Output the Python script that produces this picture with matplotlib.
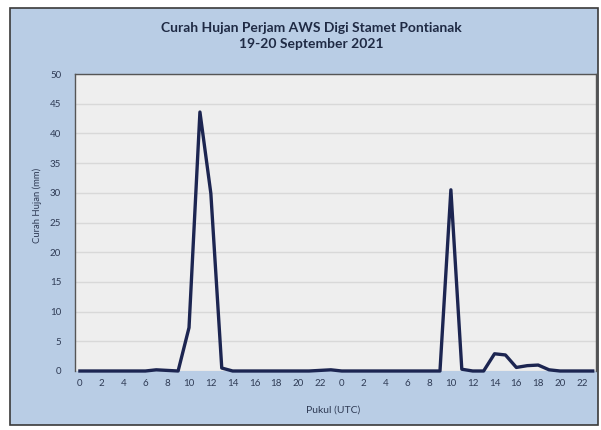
import matplotlib
matplotlib.use("Agg")
import matplotlib.pyplot as plt
from matplotlib.patches import Rectangle
import numpy as np

hours_day1 = list(range(24))
hours_day2 = list(range(24))
rain_day1 = [0, 0, 0, 0, 0, 0, 0, 0.2, 0.1, 0, 7.3, 43.6, 29.9, 0.5,
             0, 0, 0, 0, 0, 0, 0, 0, 0.1, 0.2]
rain_day2 = [0, 0, 0, 0, 0, 0, 0, 0, 0, 0, 30.5, 0.3, 0, 0,
             2.9, 2.7, 0.6, 0.9, 1.0, 0.2, 0, 0, 0, 0]
y_ticks = [0, 5, 10, 15, 20, 25, 30, 35, 40, 45, 50]

title = "Curah Hujan Perjam AWS Digi Stamet Pontianak\n19-20 September 2021"
ylabel = "Curah Hujan (mm)"
xlabel = "Pukul (UTC)"

hours = hours_day1 + hours_day2
rain = rain_day1 + rain_day2
x = np.arange(len(hours))

plt.rcParams['font.family'] = ['Lato', 'DejaVu Sans']

W, H = 601, 430
fig = plt.figure(figsize=(W / 100, H / 100), dpi=100)
fig.patch.set_facecolor("white")
fig.patches.append(Rectangle((10 / W, 1 - 425 / H), 588 / W, 417 / H,
                             transform=fig.transFigure, facecolor="#B9CDE5",
                             edgecolor="#3A3A3A", linewidth=1.2, zorder=-10))

ax = fig.add_axes([75 / W, 1 - 371 / H, 521 / W, 297 / H])
ax.set_zorder(5)
ax.set_facecolor("#EEEEEE")
ax.plot(x, rain, color="#1C2551", linewidth=2.4, solid_joinstyle="round",
        clip_on=False, zorder=3)
ax.set_xlim(-0.45, 47.3)
ax.set_ylim(0, 50)
ax.set_yticks(y_ticks)
ax.set_yticklabels([str(v) for v in y_ticks])
ax.set_xticks(x[::2])
ax.set_xticklabels([str(h) for h in hours[::2]])
ax.grid(axis="y", color="#D8D8D8", linewidth=1.0)
ax.set_axisbelow(True)
ax.tick_params(axis="y", length=0, labelsize=7, colors="#2F3B55", pad=10)
ax.tick_params(axis="x", length=0, labelsize=7, colors="#2F3B55", pad=6)
for s in ax.spines.values():
    s.set_color("#555555")
    s.set_linewidth(1.0)
ax.spines["bottom"].set_visible(False)

fig.text(311 / W, 1 - 36 / H, title, ha="center", va="center", fontsize=10,
         fontweight="bold", color="#1F2A44", linespacing=1.35)
fig.text(37 / W, 1 - 205 / H, ylabel, rotation=90, ha="center", va="center",
         fontsize=6.8, color="#2F3B55")
fig.text(333 / W, 1 - 410 / H, xlabel, ha="center", va="center",
         fontsize=7.5, color="#2F3B55")

fig.savefig("out.png", dpi=100)
